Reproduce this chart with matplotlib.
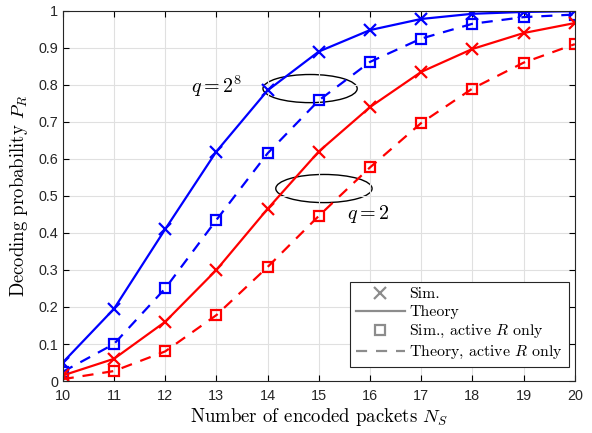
import matplotlib.pyplot as plt
from matplotlib.patches import Ellipse
from matplotlib.lines import Line2D

plt.rcParams['font.family'] = 'serif'
plt.rcParams['font.serif'] = ['cmr10']
plt.rcParams['mathtext.fontset'] = 'cm'
plt.rcParams['axes.formatter.use_mathtext'] = True

ns = [10, 11, 12, 13, 14, 15, 16, 17, 18, 19, 20]

# q = 2^8
blue_sim = [0.05, 0.195, 0.41, 0.62, 0.785, 0.89, 0.948, 0.978, 0.992, 0.997, 0.999]
blue_active = [0.025, 0.10, 0.25, 0.435, 0.615, 0.758, 0.862, 0.925, 0.965, 0.983, 0.99]
# q = 2
red_sim = [0.015, 0.06, 0.16, 0.30, 0.465, 0.62, 0.74, 0.835, 0.897, 0.94, 0.967]
red_active = [0.005, 0.027, 0.08, 0.178, 0.308, 0.446, 0.577, 0.697, 0.79, 0.86, 0.91]

fig = plt.figure(figsize=(5.92, 4.33), dpi=100)
ax = fig.add_axes([0.106, 0.12, 0.865, 0.855])

ax.plot(ns, blue_sim, '-', color='blue', lw=1.6, marker='x', ms=8, mew=1.6)
ax.plot(ns, blue_active, '--', color='blue', lw=1.6, dashes=(5, 4), marker='s', ms=7,
        mew=1.6, mfc='none')
ax.plot(ns, red_sim, '-', color='red', lw=1.6, marker='x', ms=8, mew=1.6)
ax.plot(ns, red_active, '--', color='red', lw=1.6, dashes=(5, 4), marker='s', ms=7,
        mew=1.6, mfc='none')

ax.add_patch(Ellipse((14.83, 0.79), 1.84, 0.076, fill=False, color='black', lw=1.0))
ax.add_patch(Ellipse((15.1, 0.52), 1.88, 0.076, fill=False, color='black', lw=1.0))
ax.text(12.5, 0.797, r'$q = 2^8$', fontsize=14.5, va='center')
ax.text(15.55, 0.452, r'$q = 2$', fontsize=14.5, va='center')

ax.set_xlim(10, 20)
ax.set_ylim(0, 1)
ax.set_xticks(ns)
ax.set_yticks([i / 10 for i in range(11)])
ax.set_xticklabels([str(n) for n in ns], family='Liberation Sans')
ax.set_yticklabels(['0', '0.1', '0.2', '0.3', '0.4', '0.5', '0.6', '0.7', '0.8', '0.9', '1'],
                   family='Liberation Sans')
ax.grid(True, color='#e0e0e0', lw=0.8)
ax.tick_params(direction='in', top=True, right=True, labelsize=10.4, length=4,
               labelcolor='#262626')
ax.tick_params(axis='x', pad=6)
for s in ax.spines.values():
    s.set_color('#262626')
ax.set_xlabel(r'Number of encoded packets $N_S$', fontsize=13.5, labelpad=2)
ax.set_ylabel(r'Decoding probability $P_R$', fontsize=13.5, labelpad=6)

gray = '#8c8c8c'
handles = [
    Line2D([], [], ls='none', marker='x', color=gray, ms=8, mew=1.6),
    Line2D([], [], ls='-', color=gray, lw=1.6),
    Line2D([], [], ls='none', marker='s', color=gray, mfc='none', ms=7, mew=1.6),
    Line2D([], [], ls='--', dashes=(5, 4), color=gray, lw=1.6),
]
labels = ['Sim.', 'Theory', r'Sim., active $R$ only', r'Theory, active $R$ only']
leg = ax.legend(handles, labels, loc='lower right', fontsize=11.4, fancybox=False,
                edgecolor='#262626', framealpha=1, handlelength=3.1,
                labelspacing=0.25, borderpad=0.35, handletextpad=0.3, borderaxespad=0,
                bbox_to_anchor=(0.988, 0.038))
leg.get_frame().set_linewidth(0.8)

plt.savefig('out.png', dpi=100)
